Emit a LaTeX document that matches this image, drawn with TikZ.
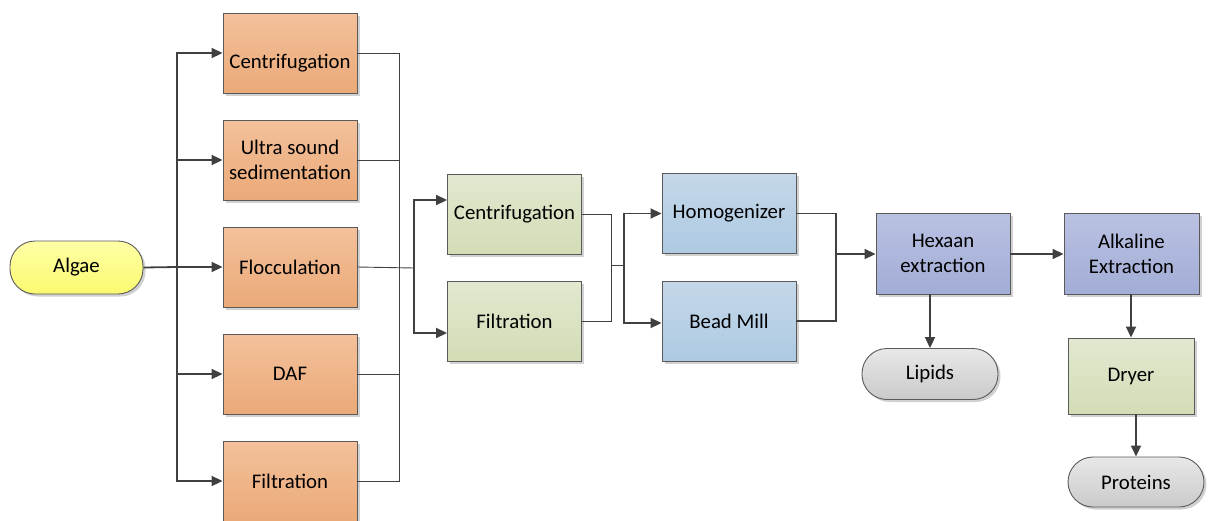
\documentclass[tikz,border=0pt]{standalone}
\usepackage{fontspec}
\setmainfont{Carlito}
\usetikzlibrary{arrows.meta,shadows,calc}
\definecolor{edge}{HTML}{5A5A5A}
\definecolor{linec}{HTML}{404040}
\newcommand{\boxfont}{\fontsize{20.8}{25}\selectfont}
\tikzset{
  box/.style={draw=edge, line width=0.9pt, minimum width=134pt, minimum height=80pt, align=center,
    font=\boxfont, inner sep=0pt,
    drop shadow={shadow xshift=2.5pt, shadow yshift=-2.5pt, fill=black!18, opacity=1}},
  orangebox/.style={box, top color=orange1, bottom color=orange2},
  greenbox/.style={box, top color=green1, bottom color=green2},
  bluebox/.style={box, top color=blue1, bottom color=blue2},
  purplebox/.style={box, top color=purple1, bottom color=purple2, minimum width=134pt, minimum height=81pt},
  term/.style={draw=edge, line width=0.9pt, rounded corners=25pt, minimum width=134pt, minimum height=52pt,
    font=\boxfont, inner sep=0pt,
    drop shadow={shadow xshift=2.5pt, shadow yshift=-2.5pt, fill=black!18, opacity=1}},
  arr/.style={draw=linec, line width=1.8pt, -{Triangle[length=11pt,width=10pt]}},
  thick line/.style={draw=linec, line width=1.8pt},
  thin line/.style={draw=linec, line width=0.9pt},
}
\definecolor{orange1}{HTML}{F3C19B}
\definecolor{orange2}{HTML}{EBA978}
\definecolor{green1}{HTML}{E1E8D0}
\definecolor{green2}{HTML}{D2DDB5}
\definecolor{blue1}{HTML}{C5D7E9}
\definecolor{blue2}{HTML}{ADCAE2}
\definecolor{purple1}{HTML}{BAC2E2}
\definecolor{purple2}{HTML}{A2ADD6}
\definecolor{yellow1}{HTML}{FFFFA6}
\definecolor{yellow2}{HTML}{FAFA70}
\definecolor{grey1}{HTML}{E8E8E8}
\definecolor{grey2}{HTML}{CACACA}
\begin{document}
\begin{tikzpicture}[x=1pt,y=-1pt]
\useasboundingbox (0,0) rectangle (1208,520);
% nodes
\node[term, top color=yellow1, bottom color=yellow2, minimum width=133pt, minimum height=53pt] (algae) at (76.5,267.5) {Algae};
\node[orangebox, label={[font=\boxfont, yshift=-10pt]center:Centrifugation}] (o1) at (290,53) {};
\node[orangebox] (o2) at (290,160) {Ultra sound\\sedimentation};
\node[orangebox] (o3) at (290,267) {Flocculation};
\node[orangebox] (o4) at (290,374) {DAF};
\node[orangebox] (o5) at (290,481) {Filtration};
\node[greenbox] (g1) at (514.5,214) {Centrifugation};
\node[greenbox] (g2) at (514.5,321) {Filtration};
\node[bluebox] (b1) at (729,213.5) {Homogenizer};
\node[bluebox] (b2) at (729,321) {Bead Mill};
\node[purplebox] (hex) at (943,253.5) {Hexaan\\extraction};
\node[purplebox, minimum width=135pt] (alk) at (1131.5,253.5) {Alkaline\\Extraction};
\node[term, top color=grey1, bottom color=grey2, minimum width=136pt, minimum height=51pt] (lip) at (930,374) {Lipids};
\node[greenbox, minimum width=126pt, minimum height=76pt] (dry) at (1131,376) {Dryer};
\node[term, top color=grey1, bottom color=grey2, minimum width=136pt, minimum height=50pt] (prot) at (1136,482) {Proteins};
% junctions
\coordinate (j1) at (177,267);
\coordinate (j2) at (399,267);
\coordinate (j3) at (414,268);
\coordinate (j4) at (611,265);
\coordinate (j5) at (624,265);
\coordinate (j6) at (836,254);
% algae fan-out
\draw[thick line] (algae.east) -- (j1);
\foreach \n in {o1,o2,o3,o4,o5} \draw[arr] (j1) |- (\n.west);
% orange collect
\foreach \n in {o1,o2,o4,o5} \draw[thin line] (\n.east) -| (j2);
\draw[thin line] (o3.east) -- (j3);
\draw[arr] (j3) |- ([yshift=14pt]g1.west);
\draw[arr] (j3) |- ([yshift=-12pt]g2.west);
% green collect
\draw[thin line] (g1.east) -| (j4);
\draw[thin line] (g2.east) -| (j4);
\draw[thin line] (j4) -- (j5);
\draw[arr] (j5) |- (b1.west);
\draw[arr] (j5) |- ([yshift=-2pt]b2.west);
% blue collect
\draw[thick line] (b1.east) -| (j6);
\draw[thick line] (b2.east) -| (j6);
\draw[arr] (j6) -- (hex.west |- j6);
\draw[arr] (hex.east |- j6) -- (alk.west |- j6);
\draw[arr] (lip.north |- hex.south) -- (lip.north);
\draw[arr] (dry.north |- alk.south) -- (dry.north);
\draw[arr] (prot.north |- dry.south) -- (prot.north);
\end{tikzpicture}
\end{document}
